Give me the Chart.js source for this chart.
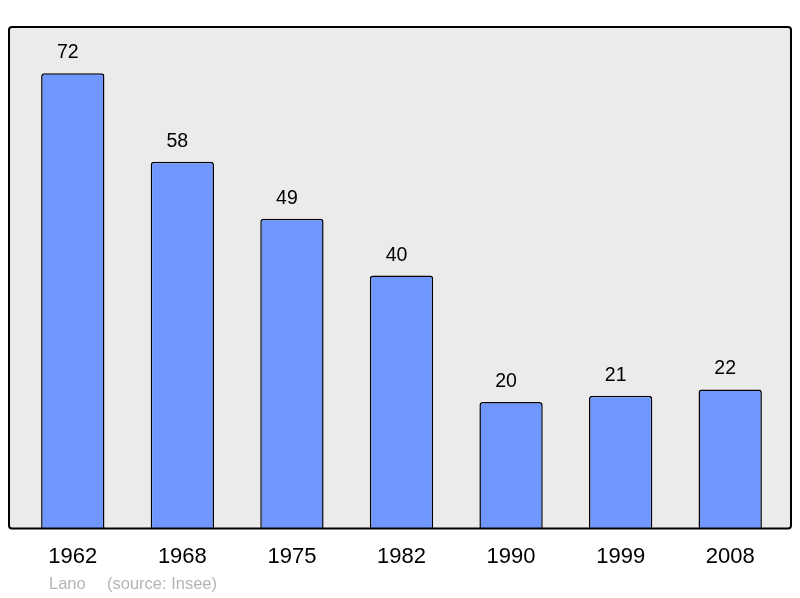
<!DOCTYPE html>
<html>
<head>
<meta charset="utf-8">
<title>Lano - population</title>
<script src="https://cdn.jsdelivr.net/npm/chart.js@4/dist/chart.umd.min.js"></script>
<style>
    html, body { margin: 0; padding: 0; background: #ffffff; }
    #chart { display: block; }
</style>
</head>
<body>
<canvas id="chart" width="800" height="598"></canvas>
<script>
    // Data
    var years = ["1962", "1968", "1975", "1982", "1990", "1999", "2008"];
    var population = [72, 58, 49, 40, 20, 21, 22];
    var sourceName = "Lano";
    var sourceNote = "(source: Insee)";

    // Grey framed background behind the plot
    var framePlugin = {
        id: "frame",
        beforeDatasetsDraw: function (chart) {
            var ctx = chart.ctx;
            var a = chart.chartArea;
            var x = a.left - 9, y = a.top, w = a.right - a.left + 15, h = a.bottom - a.top;
            ctx.save();
            ctx.beginPath();
            ctx.roundRect(x, y, w, h, 3);
            ctx.fillStyle = "#ebebeb";
            ctx.fill();
            ctx.restore();
        },
        afterDatasetsDraw: function (chart) {
            var ctx = chart.ctx;
            var a = chart.chartArea;
            var x = a.left - 9, y = a.top, w = a.right - a.left + 15, h = a.bottom - a.top;
            ctx.save();
            ctx.beginPath();
            ctx.roundRect(x, y, w, h, 3);
            ctx.lineWidth = 2;
            ctx.strokeStyle = "#000000";
            ctx.stroke();
            ctx.restore();
        }
    };

    // Value labels above bars + source line
    var labelPlugin = {
        id: "labels",
        afterDraw: function (chart) {
            var ctx = chart.ctx;
            var meta = chart.getDatasetMeta(0);
            ctx.save();
            ctx.font = "19.5px 'Liberation Sans', Arial, sans-serif";
            ctx.fillStyle = "#000000";
            ctx.textAlign = "center";
            ctx.textBaseline = "alphabetic";
            meta.data.forEach(function (bar, i) {
                ctx.fillText(population[i], bar.x - 5, bar.y - 15);
            });
            ctx.font = "16.5px 'Liberation Sans', Arial, sans-serif";
            ctx.fillStyle = "#b4b4b4";
            ctx.textAlign = "left";
            ctx.textBaseline = "middle";
            ctx.fillText(sourceName, 49, 584);
            ctx.fillText(sourceNote, 107, 584);
            ctx.restore();
        }
    };

    var ctx1 = document.getElementById("chart").getContext("2d");
    var myChart = new Chart(ctx1, {
        type: "bar",
        data: {
            labels: years,
            datasets: [{
                data: population,
                backgroundColor: "#7096ff",
                borderColor: "#000000",
                borderWidth: 1.5,
                borderRadius: 3,
                borderSkipped: "bottom",
                barPercentage: 0.578,
                categoryPercentage: 1.0
            }]
        },
        options: {
            responsive: false,
            animation: false,
            layout: {
                padding: { left: 18, right: 15, top: 27, bottom: 13 }
            },
            plugins: {
                legend: { display: false },
                tooltip: { enabled: false }
            },
            scales: {
                x: {
                    grid: { display: false, drawTicks: false },
                    border: { display: false },
                    ticks: {
                        color: "#000000",
                        padding: 15,
                        font: { family: "'Liberation Sans', Arial, sans-serif", size: 22 }
                    }
                },
                y: {
                    display: false,
                    min: 0,
                    max: 79.3
                }
            }
        },
        plugins: [framePlugin, labelPlugin]
    });
</script>
</body>
</html>
